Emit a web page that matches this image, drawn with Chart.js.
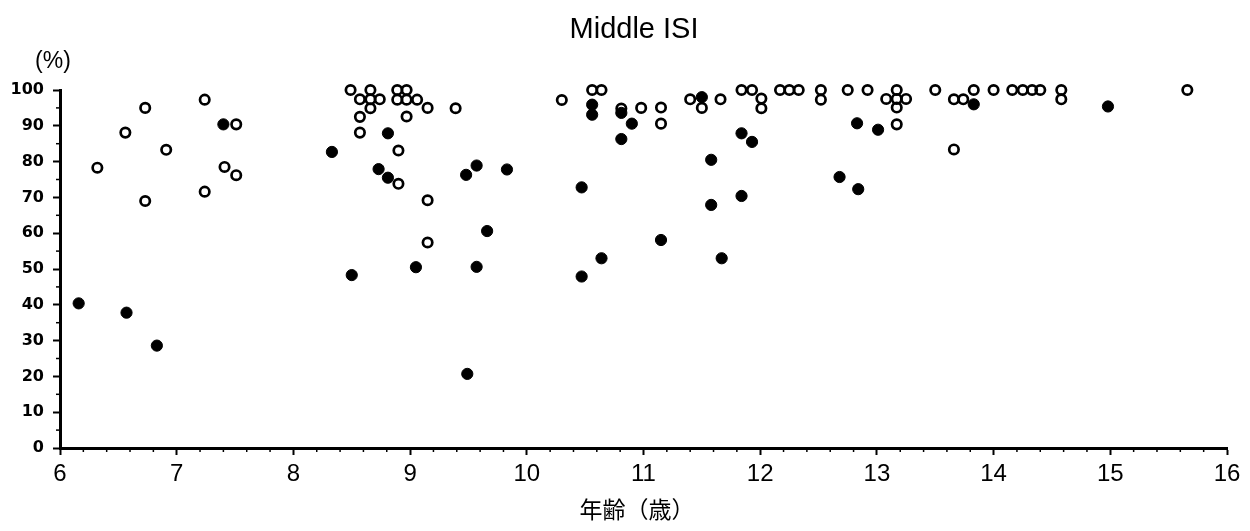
<!DOCTYPE html>
<html><head><meta charset="utf-8">
<style>html,body{margin:0;padding:0;background:#fff;}#wrap{width:1250px;height:531px;}</style>
<script src="https://cdn.jsdelivr.net/npm/chart.js@4/dist/chart.umd.min.js"></script>
</head><body><div id="wrap"><canvas id="c" width="1250" height="531"></canvas></div>
<script>
const titleText = 'Middle ISI';
const yUnitText = '(%)';
const xTitleText = '年齢（歳）';
const xTickValues = [6,7,8,9,10,11,12,13,14,15,16];
const yTickValues = [0,10,20,30,40,50,60,70,80,90,100];

const openX = [6.32,6.56,6.73,6.73,6.91,7.24,7.24,7.41,7.51,7.51,
  8.49,8.66,8.57,8.66,8.74,8.66,8.57,8.57,8.89,8.97,
  8.89,8.97,9.06,9.15,8.97,8.90,8.90,9.15,9.15,9.39,
  10.30,10.56,10.64,10.81,10.98,11.15,11.15,11.40,11.50,11.66,
  11.84,11.93,12.01,12.01,12.17,12.25,12.33,12.52,12.52,12.75,
  12.92,13.17,13.08,13.17,13.25,13.17,13.17,13.50,13.66,13.74,
  13.83,13.66,14.00,14.16,14.25,14.33,14.40,14.58,14.58,15.66];
const openY = [78.3,88.1,95.0,69.0,83.3,97.3,71.6,78.5,90.4,76.2,
  100,100,97.4,97.4,97.4,94.9,92.5,88.1,100,100,
  97.3,97.3,97.3,95.0,92.6,83.1,73.8,69.2,57.4,94.9,
  97.2,100,100,94.8,95.0,95.1,90.6,97.4,95.0,97.4,
  100,100,97.6,94.9,100,100,100,100,97.3,100,
  100,100,97.5,97.5,97.5,95.1,90.4,100,97.4,97.4,
  100,83.4,100,100,100,100,100,100,97.4,100];
const filledX = [6.16,6.57,6.83,7.40,8.33,8.50,8.73,8.81,8.81,9.05,
  9.48,9.57,9.83,9.66,9.57,9.49,10.47,10.56,10.56,10.81,
  10.90,10.81,10.64,10.47,11.15,11.50,11.58,11.58,11.67,11.84,
  11.93,11.84,12.68,12.83,12.84,13.01,13.83,14.98];
const filledY = [40.4,37.8,28.6,90.4,82.7,48.3,77.9,87.9,75.5,50.5,
  76.3,78.9,77.8,60.6,50.6,20.7,72.8,95.9,93.1,93.6,
  90.6,86.3,53.0,47.9,58.1,98.0,80.5,67.9,53.0,87.9,
  85.5,70.4,75.7,90.7,72.3,88.9,96.0,95.4];

const toPts = (xs, ys) => xs.map((v, i) => ({x: v, y: ys[i]}));

const decor = {
  id: 'decor',
  afterDraw(chart) {
    const {ctx, scales: {x, y}} = chart;
    ctx.save();
    ctx.strokeStyle = '#000';
    ctx.lineWidth = 1.5;
    for (let i = 1; i < 50; i++) {
      if (i % 5 === 0) continue;
      const px = x.getPixelForValue(6 + i * 0.2);
      ctx.beginPath(); ctx.moveTo(px, y.bottom); ctx.lineTo(px, y.bottom + 4); ctx.stroke();
    }
    for (let v = 5; v < 100; v += 10) {
      const py = y.getPixelForValue(v);
      ctx.beginPath(); ctx.moveTo(x.left - 4, py); ctx.lineTo(x.left + 2, py); ctx.stroke();
    }
    ctx.fillStyle = '#000';
    ctx.textAlign = 'center';
    ctx.textBaseline = 'middle';
    ctx.font = '29px "Liberation Sans", Arial, sans-serif';
    ctx.fillText(titleText, 634, 30);
    ctx.font = '23px "Liberation Sans", Arial, sans-serif';
    ctx.fillText(yUnitText, 53, 62);
    ctx.font = '23px "Noto Sans CJK JP", sans-serif';
    ctx.fillText(xTitleText, 637, 509);
    ctx.restore();
  }
};

new Chart(document.getElementById('c'), {
  type: 'scatter',
  data: {
    datasets: [
      {
        label: 'filled',
        data: toPts(filledX, filledY),
        order: 0,
        pointRadius: 5.6,
        pointHoverRadius: 5.6,
        pointBackgroundColor: '#000',
        pointBorderColor: '#000',
        pointBorderWidth: 1,
        clip: false
      },
      {
        label: 'open',
        data: toPts(openX, openY),
        order: 1,
        pointRadius: 4.7,
        pointHoverRadius: 4.7,
        pointBackgroundColor: 'rgba(0,0,0,0)',
        pointBorderColor: '#000',
        pointBorderWidth: 2.7,
        clip: false
      }
    ]
  },
  options: {
    responsive: false,
    animation: false,
    events: [],
    layout: {padding: {top: 90, right: 23, bottom: 0, left: 0}},
    plugins: {legend: {display: false}, tooltip: {enabled: false}, title: {display: false}},
    scales: {
      x: {
        type: 'linear', min: 6, max: 16,
        afterFit(s) { s.height = 83; },
        afterBuildTicks(s) { s.ticks = xTickValues.map(v => ({value: v})); },
        ticks: {color: '#000', padding: 5, font: {family: '"Liberation Sans", Arial, sans-serif', size: 24}},
        grid: {display: true, drawOnChartArea: false, drawTicks: true, tickLength: 7, tickWidth: 2, tickColor: '#000'},
        border: {display: true, color: '#000', width: 3}
      },
      y: {
        type: 'linear', min: 0, max: 100,
        afterFit(s) { s.width = 60; },
        afterBuildTicks(s) { s.ticks = yTickValues.map(v => ({value: v})); },
        ticks: {color: '#000', padding: 9, font: {family: '"DejaVu Sans", sans-serif', size: 16, weight: 'bold'}},
        grid: {display: true, drawOnChartArea: false, drawTicks: true, tickLength: 7, tickWidth: 2, tickColor: '#000'},
        border: {display: true, color: '#000', width: 3}
      }
    }
  },
  plugins: [decor]
});
</script>
</body></html>
